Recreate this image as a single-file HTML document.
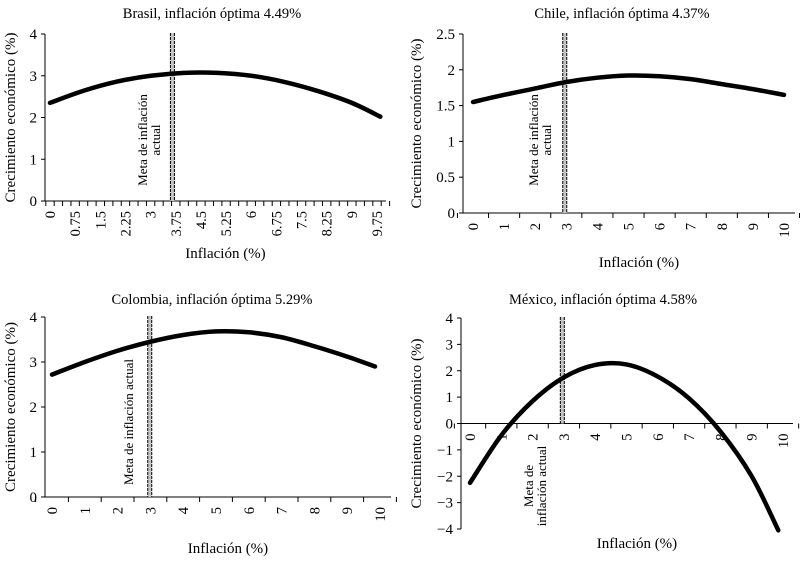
<!DOCTYPE html>
<html><head><meta charset="utf-8"><style>
body{margin:0;background:#fff;}
svg{display:block;font-family:"Liberation Serif",serif;}
</style></head><body>
<svg id="c" width="800" height="562"></svg>
<script>
const brX=[0,1,2,3,4,5,6,7,8,9,9.85];
const brY=[2.35,2.64,2.86,3.0,3.07,3.07,3.0,2.85,2.63,2.35,2.02];
const chX=[0,1,2,3,4,5,6,7,8,9,10];
const chY=[1.55,1.65,1.74,1.83,1.89,1.92,1.91,1.87,1.80,1.73,1.65];
const coX=[0,1,2,3,4,5,6,7,8,9,9.85];
const coY=[2.72,3.0,3.25,3.45,3.6,3.68,3.66,3.55,3.35,3.12,2.9];
const mxX=[0,1,2,3,4,5,6,7,8,9,9.85];
const mxY=[-2.25,-0.45,0.85,1.75,2.22,2.24,1.78,0.95,-0.3,-2.0,-4.05];
const brTicks=["0","0.75","1.5","2.25","3","3.75","4.5","5.25","6","6.75","7.5","8.25","9","9.75"];
const intTicks=["0","1","2","3","4","5","6","7","8","9","10"];
const brYT=[0,1,2,3,4], chYT=[0,0.5,1,1.5,2,2.5], coYT=[0,1,2,3,4], mxYT=[-4,-3,-2,-1,0,1,2,3,4];
const NS="http://www.w3.org/2000/svg";
const svg=document.getElementById('c');
function mk(t,a,p){const e=document.createElementNS(NS,t);for(const k in a)e.setAttribute(k,a[k]);(p||svg).appendChild(e);return e;}
function panel(o){
  const g=mk('g',{});
  
  
  const xs=v=>o.x0+(v-o.xv0)*(o.x1-o.x0)/(o.xv1-o.xv0);
  const ys=v=>o.yb+(v-o.ymin)*(o.yt-o.yb)/(o.ymax-o.ymin);
  const t=mk('text',{x:o.tx,y:o.ty,'text-anchor':'middle','font-size':14.5},g);t.textContent=o.title;
  
  const yt=mk('text',{transform:`translate(${o.ytx},${(o.yt+o.yb)/2}) rotate(-90)`,'text-anchor':'middle','font-size':15},g);yt.textContent='Crecimiento económico (%)';
  
  const xt=mk('text',{x:(o.axL+o.axR)/2+10,y:o.xty,'text-anchor':'middle','font-size':15},g);xt.textContent='Inflación (%)';
  
  mk('line',{x1:o.axL,x2:o.axL,y1:ys(o.ymax),y2:ys(o.ymin),stroke:'#000'},g);
  o.yTicks.forEach(v=>{
    mk('line',{x1:o.axL-4,x2:o.axL,y1:ys(v),y2:ys(v),stroke:'#000'},g);
    const l=mk('text',{x:o.axL-8,y:ys(v)+5,'text-anchor':'end','font-size':15},g);
    l.textContent=(v<0?'\u2212'+(-v):String(v));
    
  });
  const y0=ys(o.xAxisAt);
  mk('line',{x1:o.axL,x2:o.axR,y1:y0,y2:y0,stroke:'#000'},g);
  for(let v=o.tickStart;v<=o.tickEnd+1e-9;v+=o.tickStep) mk('line',{x1:xs(v),x2:xs(v),y1:y0,y2:y0+5,stroke:'#000'},g);
  o.xLabels.forEach(s=>{
    const v=parseFloat(s);
    const l=mk('text',{transform:`translate(${xs(v)+5},${y0+10}) rotate(-90)`,'text-anchor':'end','font-size':14.5},g);
    l.textContent=s;
    
  });
  const lx=xs(o.meta);
  const mb=y0;
  mk('rect',{x:lx-2,y:o.metaTop,width:4,height:mb-o.metaTop,fill:'#c4c4c4'},g);
  mk('line',{x1:lx-2,x2:lx-2,y1:o.metaTop,y2:mb,stroke:'#000','stroke-dasharray':'3,1','stroke-width':1},g);
  const ml=mk('line',{x1:lx+2,x2:lx+2,y1:o.metaTop,y2:mb,stroke:'#000','stroke-dasharray':'3,1','stroke-width':1},g);
  
  o.metaText.forEach((s,i)=>{
    const l=mk('text',{transform:`translate(${o.mtx+i*13},${o.mty}) rotate(-90)`,'text-anchor':'middle','font-size':13},g);
    l.textContent=s;
    
  });
  const P=o.dx.map((v,i)=>[xs(v),ys(o.dy[i])]);
  let d=`M${P[0][0]},${P[0][1]}`;
  for(let i=0;i<P.length-1;i++){
    const p0=P[i-1]||P[i],p1=P[i],p2=P[i+1],p3=P[i+2]||P[i+1];
    d+=` C${p1[0]+(p2[0]-p0[0])/6},${p1[1]+(p2[1]-p0[1])/6} ${p2[0]-(p3[0]-p1[0])/6},${p2[1]-(p3[1]-p1[1])/6} ${p2[0]},${p2[1]}`;
  }
  const c=mk('path',{d:d,fill:'none',stroke:'#000','stroke-width':4.5,'stroke-linecap':'round'},g);
  
}
panel({name:'brasil',title:'Brasil, inflación óptima 4.49%',tx:212,ty:18,ytx:15,xty:258,
 x0:50,xv0:0,x1:377,xv1:9.75,axL:45,axR:386,ymin:0,ymax:4,yb:201,yt:34,xAxisAt:0,yTicks:brYT,
 tickStart:-0.125,tickEnd:10.125,tickStep:0.25,xLabels:brTicks,dx:brX,dy:brY,meta:3.65,metaTop:33,
 metaText:['Meta de inflación','actual'],mtx:147,mty:140});
panel({name:'chile',title:'Chile, inflación óptima 4.37%',tx:622,ty:18,ytx:421,xty:267,
 x0:473,xv0:0,x1:784,xv1:10,axL:463,axR:795,ymin:0,ymax:2.5,yb:213,yt:34,xAxisAt:0,yTicks:chYT,
 tickStart:-0.5,tickEnd:10.5,tickStep:1,xLabels:intTicks,dx:chX,dy:chY,meta:2.95,metaTop:33,
 metaText:['Meta de inflación','actual'],mtx:538,mty:140});
panel({name:'colombia',title:'Colombia, inflación óptima 5.29%',tx:212,ty:304,ytx:15,xty:553,
 x0:52,xv0:0,x1:380,xv1:10,axL:45,axR:391,ymin:0,ymax:4,yb:497,yt:317,xAxisAt:0,yTicks:coYT,
 tickStart:-0.5,tickEnd:10.5,tickStep:1,xLabels:intTicks,dx:coX,dy:coY,meta:2.98,metaTop:316,
 metaText:['Meta de inflación actual'],mtx:133,mty:422});
panel({name:'mexico',title:'México, inflación óptima 4.58%',tx:603,ty:304,ytx:421,xty:548,
 x0:470,xv0:0,x1:783,xv1:10,axL:461,axR:793,ymin:-4,ymax:4,yb:529,yt:318,xAxisAt:0,yTicks:mxYT,
 tickStart:-0.5,tickEnd:10.5,tickStep:1,xLabels:intTicks,dx:mxX,dy:mxY,meta:2.95,metaTop:317,
 metaText:['Meta de','inflación actual'],mtx:533,mty:486});
</script>
</body></html>
